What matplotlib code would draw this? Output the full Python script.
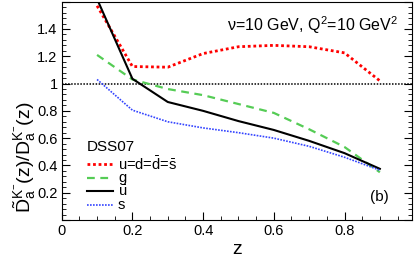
import matplotlib
matplotlib.use("Agg")
import matplotlib.pyplot as plt
from matplotlib.ticker import MultipleLocator, FuncFormatter

plt.rcParams["font.family"] = ["Liberation Sans", "DejaVu Sans"]
plt.rcParams["mathtext.fontset"] = "custom"
plt.rcParams["mathtext.rm"] = "Liberation Sans"
plt.rcParams["mathtext.it"] = "Liberation Sans"
plt.rcParams["mathtext.bf"] = "Liberation Sans:bold"

# z grid of the ratio curves
z = [0.1, 0.2, 0.3, 0.4, 0.5, 0.6, 0.7, 0.8, 0.9]

# ratio D~/D for K- in each flavour channel
ratio_light = [1.57, 1.125, 1.12, 1.22, 1.27, 1.28, 1.27, 1.225, 1.02]
ratio_g = [1.21, 1.03, 0.96, 0.915, 0.85, 0.785, 0.665, 0.535, 0.35]
ratio_ubar = [1.62, 1.035, 0.865, 0.80, 0.725, 0.66, 0.58, 0.49, 0.375]
ratio_s = [1.03, 0.805, 0.72, 0.675, 0.64, 0.60, 0.54, 0.46, 0.365]

labels = [r"u=d=$\bar{\mathrm{d}}$=$\bar{\mathrm{s}}$", "g", r"$\bar{\mathrm{u}}$", "s"]

styles = [
    dict(color="#ff0000", lw=2.0, ls=(0, (1, 1))),
    dict(color="#55cc55", lw=1.6, ls=(0, (3.5, 2.5))),
    dict(color="black", lw=1.5, ls="-"),
    dict(color="#3344ff", lw=1.2, ls=(0, (1, 0.8))),
]

fig = plt.figure(figsize=(4.15, 2.59), dpi=100)
ax = fig.add_axes([0.1487, 0.1506, 0.8433, 0.8428])

ax.axhline(1.0, color="black", lw=1.1, ls=(0, (1, 1)))
for series, st in zip([ratio_light, ratio_g, ratio_ubar, ratio_s], styles):
    ax.plot(z, series, **st)

ax.set_xlim(0, 0.99)
ax.set_ylim(0, 1.6)
ax.xaxis.set_major_locator(MultipleLocator(0.2))
ax.xaxis.set_minor_locator(MultipleLocator(0.05))
ax.yaxis.set_major_locator(MultipleLocator(0.2))
ax.yaxis.set_minor_locator(MultipleLocator(0.04))
ax.xaxis.set_major_formatter(FuncFormatter(lambda v, p: "%g" % round(v, 2)))
ax.yaxis.set_major_formatter(
    FuncFormatter(lambda v, p: "" if v < 0.1 or v > 1.5 else "%g" % round(v, 2)))
ax.tick_params(which="both", direction="in", left=True, right=True, top=False, bottom=True,
               labelsize=10.5, pad=3)
ax.tick_params(which="major", length=6)
ax.tick_params(which="minor", length=3)

ax.set_xlabel("z", fontsize=14, labelpad=2)
ax.set_ylabel(r"$\tilde{\mathrm{D}}_\mathrm{a}^{\mathrm{K}^{-}}(\mathrm{z})/\mathrm{D}_\mathrm{a}^{\mathrm{K}^{-}}(\mathrm{z})$",
              fontsize=14, loc="bottom")
ax.yaxis.set_label_coords(-0.068, 0.03)

ax.text(0.961, 0.893, r"$\nu$=10 GeV, Q$^2$=10 GeV$^2$", transform=ax.transAxes,
        ha="right", va="center", fontsize=11.5)
ax.text(0.909, 0.105, "(b)", transform=ax.transAxes, ha="center", va="center", fontsize=11)

# legend drawn by hand, ROOT-style compact layout
ax.text(0.072, 0.334, "DSS07", transform=ax.transAxes, ha="left", va="center", fontsize=11)
leg_y = [0.256, 0.193, 0.131, 0.069]
for ly, lab, st in zip(leg_y, labels, styles):
    ax.plot([0.072, 0.147], [ly, ly], transform=ax.transAxes, **st)
    ax.text(0.161, ly, lab, transform=ax.transAxes, ha="left", va="center", fontsize=10.5)

fig.savefig("out.png", dpi=100)
